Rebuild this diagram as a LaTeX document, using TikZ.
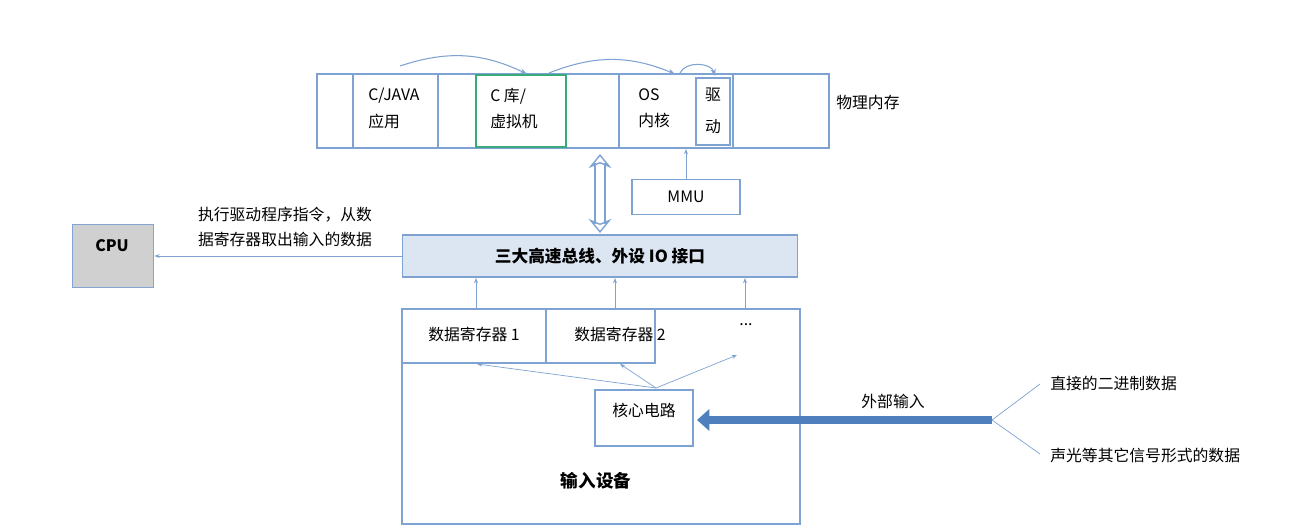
\documentclass[tikz,border=0pt]{standalone}
\usepackage{fontspec}
\setmainfont{Noto Sans CJK SC}
\usetikzlibrary{positioning,arrows.meta}
\definecolor{lineblue}{HTML}{7EA3D2}
\definecolor{darkblue}{HTML}{4F7FBD}
\definecolor{busfill}{HTML}{DCE6F2}
\definecolor{cpufill}{HTML}{D0D0D0}
\definecolor{libgreen}{HTML}{3AAA7A}

\begin{document}
\begin{tikzpicture}[
        x=0.02cm, y=-0.02cm,
        every node/.style={
            font=\fontsize{9}{12}\selectfont,
            inner sep=0pt
        },
        box/.style={
            draw=lineblue,
            thick
        },
        arrow/.style={
            -{Stealth[length=4pt]},
            color=lineblue,
            semithick
        },
        thin arrow/.style={
            -{Stealth[length=3pt]},
            color=lineblue
        }
    ]
        \useasboundingbox (0,0) rectangle (1298,526);

        % Physical memory bar
        \draw[box] (317,74) rectangle (829,148);
        \foreach \x in {353,438,619,733} \draw[lineblue, thick] (\x,74) -- (\x,148);
        \draw[libgreen, thick] (476,75) rectangle (566,147);
        \draw[box] (696,78) rectangle (730,145);
        \node[align=left, anchor=north west] (app) at (368,88) {C/JAVA\\[3pt]应用};
        \node[align=left, anchor=north west] (lib) at (490,88) {C 库/\\[3pt]虚拟机};
        \node[align=left, anchor=north west] (os) at (638,88) {OS\\[3pt]内核};
        \node[align=center] (drv) at (713,111) {驱\\[6pt]动};
        \node[anchor=west] (mem) at (836,103) {物理内存};

        % Curved arrows on top
        \coordinate (a1) at (400,66);
        \coordinate (a2) at (527,74);
        \coordinate (a3) at (549,73);
        \coordinate (a4) at (675,74);
        \coordinate (a5) at (680,73);
        \coordinate (a6) at (715,76);
        \draw[arrow] (a1) to[bend left=22] (a2);
        \draw[arrow] (a3) to[bend left=22] (a4);
        \draw[arrow] (a5) to[bend left=70] (a6);

        % MMU and bus
        \node[box, minimum width=77\pgflinewidth, text width=1.45cm, minimum height=0.7cm, align=center] (mmu) at (686,197) {MMU};
        \node[box, fill=busfill, minimum width=7.9cm, minimum height=0.84cm, font=\fontsize{9.5}{12}\selectfont\bfseries] (bus) at (600,256) {三大高速总线、外设 IO 接口};
        \node[box, draw=darkblue!70, fill=cpufill, minimum width=1.62cm, minimum height=1.26cm, anchor=north west, font=\fontsize{8.5}{12}\selectfont\bfseries] (cpu) at (72,224) {};
        \node (cpulabel) at (112,246) {\bfseries CPU};
        \node[align=left] (exec) at (285,227) {执行驱动程序指令，从数\\[2pt]据寄存器取出输入的数据};

        \draw[lineblue, double, double distance=5pt, thick, {Stealth[open,length=8pt,width=13pt]}-{Stealth[open,length=8pt,width=13pt]}] (600,154) -- (600,233);
        \draw[thin arrow] (mmu.north) -- (686,149);
        \draw[thin arrow] (bus.west) -- (cpu.east |- bus.west);

        % Input device
        \draw[box] (402,309) rectangle (800,524);
        \draw[box] (402,309) rectangle (546,363);
        \draw[box] (546,309) rectangle (655,363);
        \node (reg1) at (474,334) {数据寄存器 1};
        \node (reg2) at (620,334) {数据寄存器 2};
        \node (more) at (746,325) {...};
        \foreach \x in {476,615,745} \draw[thin arrow] (\x,309) -- (\x,278);

        \draw[box] (595,390) rectangle (693,446);
        \node (core) at (644,410) {核心电路};
        \coordinate (fan) at (656,388);
        \draw[thin arrow] (fan) -- (477,364);
        \draw[thin arrow] (fan) -- (620,364);
        \draw[thin arrow] (fan) -- (737,355);
        \node[font=\fontsize{10}{12}\selectfont\bfseries] (dev) at (596,481) {输入设备};

        % External input
        \coordinate (split) at (992,420);
        \draw[darkblue, line width=5pt, -{Triangle[length=7pt,width=12pt]}] (split) -- (697,420);
        \node (ext) at (893,401) {外部输入};
        \node[anchor=west] (bin) at (1050,383) {直接的二进制数据};
        \node[anchor=west] (sig) at (1050,455) {声光等其它信号形式的数据};
        \draw[lineblue] (split) -- (1040,384);
        \draw[lineblue] (split) -- (1040,454);
    \end{tikzpicture}
\end{document}
